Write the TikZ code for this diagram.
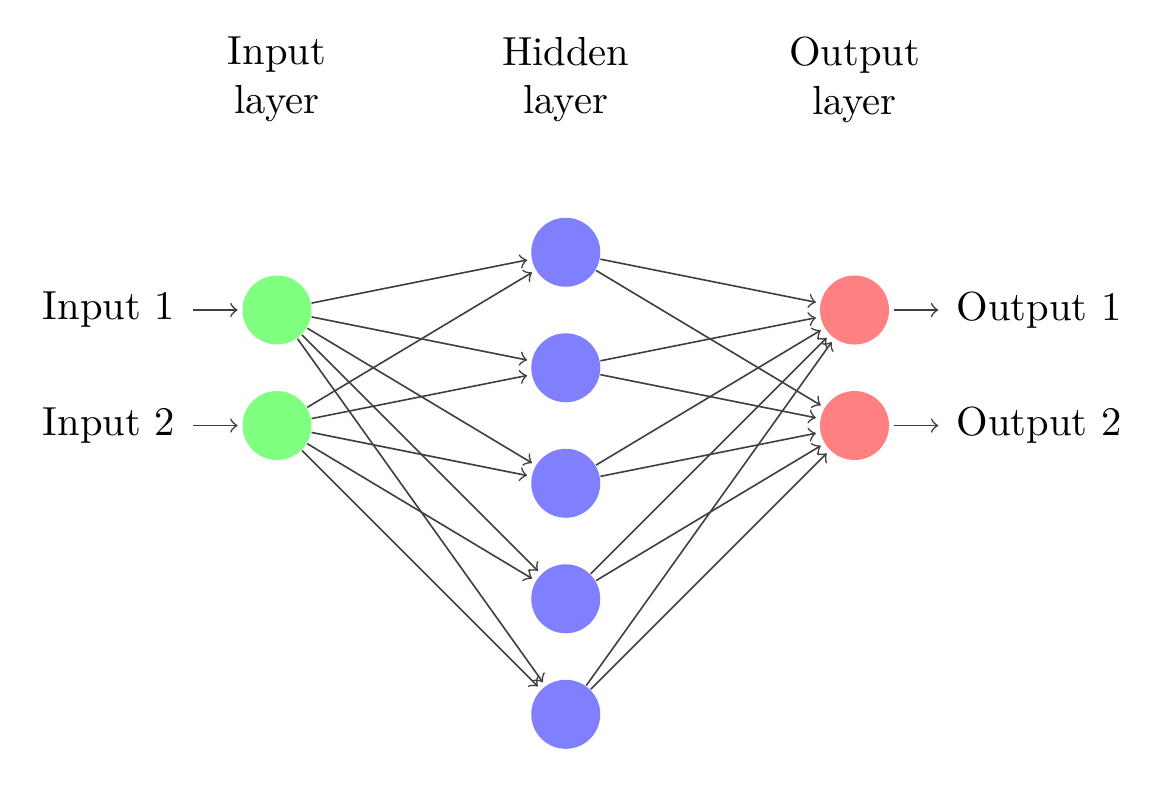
\documentclass[tikz,border=0pt]{standalone}
\begin{document}
\begin{tikzpicture}[shorten >=1pt,->,draw=black!75]
\tikzset{
  every pin edge/.style={<-,shorten <=1pt,draw=black!75},
  neuron/.style={circle,fill=black!25,minimum size=17pt,inner sep=0pt},
  input neuron/.style={neuron,fill=green!50},
  output neuron/.style={neuron,fill=red!50},
  hidden neuron/.style={neuron,fill=blue!50},
  annot/.style={text width=4em,text centered},
  link/.style={draw=black!75}
}
\useasboundingbox (-2.398,-4.234) rectangle (7.636,2.684);
\fill[white] (-2.398,-4.234) rectangle (7.636,2.684);
\node[input neuron,pin=left:Input 1] (I-1) at (0,0) {};
\node[input neuron,pin=left:Input 2] (I-2) at (0,-1) {};
\foreach \n/\y in {1/0.5,2/-0.5,3/-1.5,4/-2.5,5/-3.5}
  \node[hidden neuron] (H-\n) at (2.5,\y) {};
\node[output neuron,pin={[pin edge={->,shorten <=1pt,shorten >=1pt}]right:Output 1}] (O-1) at (5,0) {};
\node[output neuron,pin={[pin edge={->,shorten <=1pt,shorten >=1pt}]right:Output 2}] (O-2) at (5,-1) {};
\foreach \s in {1,2}
  \foreach \d in {1,...,5}
    \path[link] (I-\s) edge (H-\d);
\foreach \s in {1,...,5}
  \foreach \d in {1,2}
    \path[link] (H-\s) edge (O-\d);
\node[annot] (il) at (0,1.995) {Input layer};
\node[annot] (hl) at (2.5,1.995) {Hidden layer};
\node[annot] (ol) at (5,1.995) {Output layer};
\end{tikzpicture}
\end{document}
